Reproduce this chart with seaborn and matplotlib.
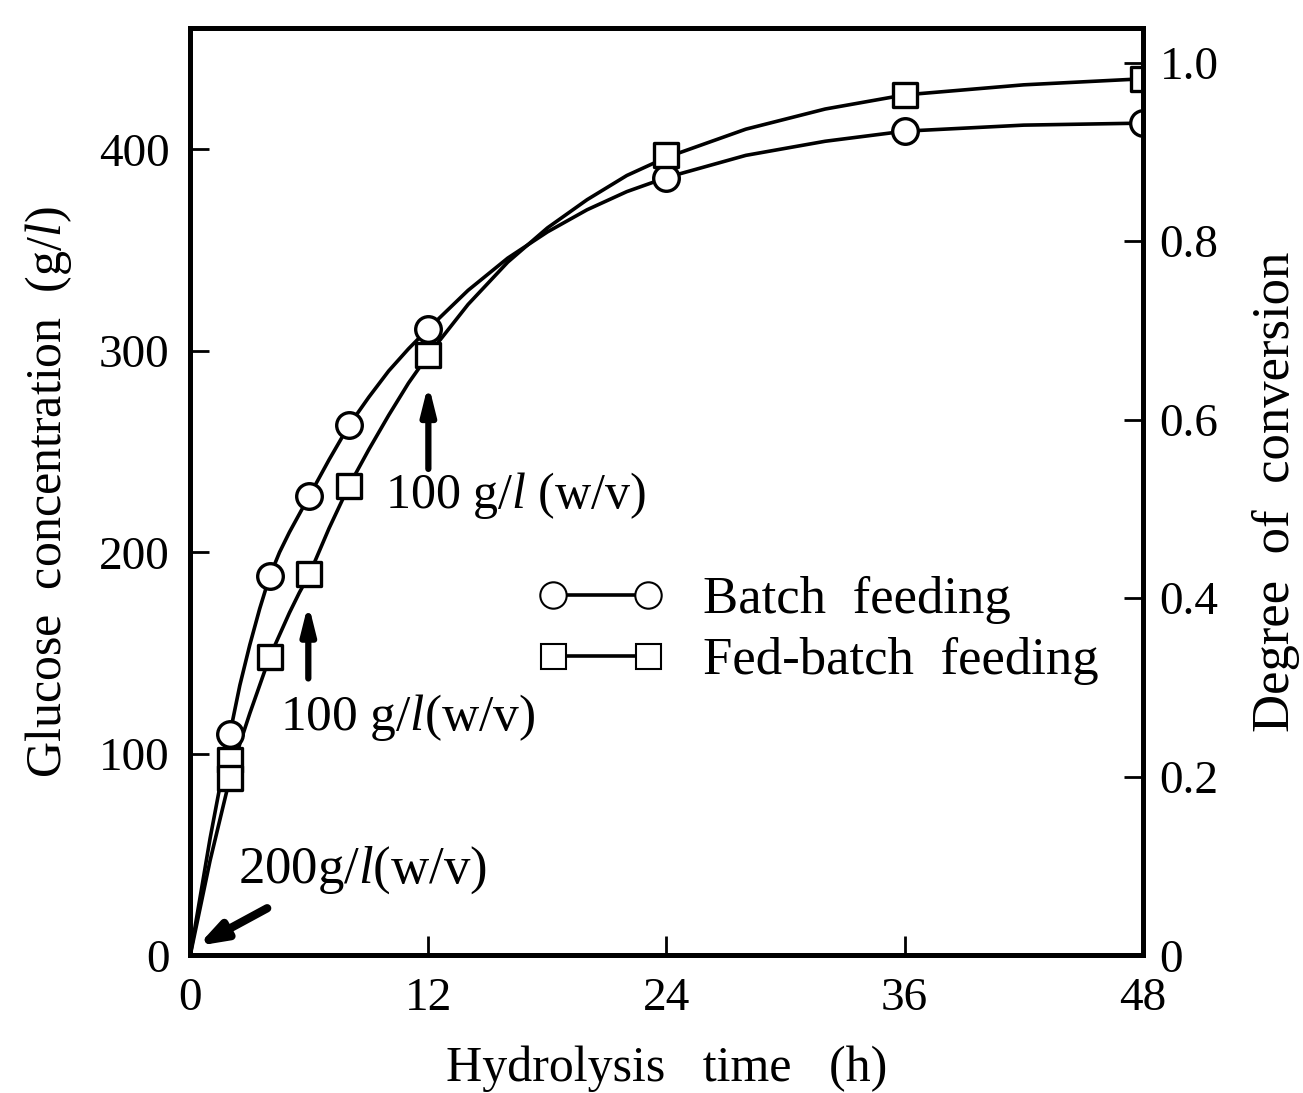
import numpy as np
import pandas as pd
import matplotlib
matplotlib.use("Agg")
import matplotlib.pyplot as plt
from matplotlib.lines import Line2D
import seaborn as sns

# measured points (glucose g/l)
t_batch = [2, 4, 6, 8, 12, 24, 36, 48]
glc_batch = [110, 188, 228, 263, 311, 386, 409, 413]
t_fed = [2, 2, 4, 6, 8, 12, 24, 36, 48]
glc_fed = [97, 88, 148, 189, 233, 298, 397, 427, 435]

# smooth curves
t_curve = [0, 1, 2, 2.5, 3, 3.5, 4, 4.5, 5, 5.5, 6, 7, 8, 9, 10, 11, 12, 14, 16, 18, 20, 22,
           24, 28, 32, 36, 42, 48]
batch_curve = [0, 58, 110, 134, 154, 172, 188, 200, 210, 219, 228, 246, 263, 277, 290, 301, 311,
               330, 346, 359, 370, 379, 386, 397, 404, 409, 412, 413]
fed_curve = [0, 47, 88, 105, 120, 134, 148, 159, 170, 180, 189, 212, 233, 251, 268, 284, 298,
             323, 344, 361, 375, 387, 396, 410, 420, 427, 432, 435]

x_ticks = [0, 12, 24, 36, 48]
y_ticks = [0, 100, 200, 300, 400]
conv_ticks = [0, 0.2, 0.4, 0.6, 0.8, 1.0]
conv_labels = ["0", "0.2", "0.4", "0.6", "0.8", "1.0"]

sns.set_theme(style="ticks", rc={"axes.edgecolor": "black", "text.color": "black",
                                 "axes.labelcolor": "black", "xtick.color": "black",
                                 "ytick.color": "black"})
plt.rcParams["font.family"] = ["Liberation Serif", "DejaVu Serif"]
plt.rcParams["mathtext.fontset"] = "custom"
plt.rcParams["mathtext.it"] = "Liberation Serif:italic"
plt.rcParams["mathtext.rm"] = "Liberation Serif"

fig = plt.figure(figsize=(13.03, 10.93), dpi=100)
ax = fig.add_axes([0.146, 0.126, 0.731, 0.848])

lw = 2.6
sns.lineplot(x=t_curve, y=batch_curve, color="black", lw=lw, ax=ax)
sns.lineplot(x=t_curve, y=fed_curve, color="black", lw=lw, ax=ax)
sns.scatterplot(x=t_batch, y=glc_batch, marker="o", s=340, facecolor="white",
                edgecolor="black", linewidth=2.4, ax=ax, zorder=3)
sns.scatterplot(x=t_fed, y=glc_fed, marker="s", s=300, facecolor="white",
                edgecolor="black", linewidth=2.4, ax=ax, zorder=3)

ax.set_xlim(0, 48)
ax.set_ylim(0, 460)
ax.set_xticks(x_ticks)
ax.set_yticks(y_ticks)
ax.tick_params(direction="in", length=14, width=2, labelsize=34, pad=15)
ax.tick_params(axis="x", pad=16)
for s in ax.spines.values():
    s.set_linewidth(3.5)
    s.set_zorder(5)
ax.set_xlabel("Hydrolysis   time   (h)", fontsize=36, labelpad=18)
ax.set_ylabel("Glucose  concentration  (g/$\\it{l}$)", fontsize=36, labelpad=18)

ax2 = ax.twinx()
ax2.set_ylim(0, 460 / 443)
ax2.set_yticks(conv_ticks)
ax2.set_yticklabels(conv_labels)
ax2.tick_params(direction="in", length=14, width=2, labelsize=34, pad=12)
for s in ax2.spines.values():
    s.set_linewidth(3.5)
ax2.set_ylabel("Degree  of  conversion", fontsize=38, labelpad=24)

# feeding annotations
ax.annotate("", xy=(0.25, 4), xytext=(4.0, 24),
            arrowprops=dict(arrowstyle="-|>,head_length=1.3,head_width=0.45",
                            color="black", lw=6))
ax.text(2.4, 42, "200g/$\\it{l}$(w/v)", fontsize=38, va="center")
ax.annotate("", xy=(5.95, 176), xytext=(5.95, 136),
            arrowprops=dict(arrowstyle="-|>,head_length=1.4,head_width=0.35",
                            color="black", lw=4.5))
ax.text(4.5, 118, "100 g/$\\it{l}$(w/v)", fontsize=37, va="center")
ax.annotate("", xy=(12.0, 285), xytext=(12.0, 240),
            arrowprops=dict(arrowstyle="-|>,head_length=1.4,head_width=0.35",
                            color="black", lw=4.5))
ax.text(9.8, 228, "100 g/$\\it{l}$ (w/v)", fontsize=36, va="center")

handles = [
    Line2D([], [], color="black", lw=lw, marker="o", markersize=19,
           markerfacecolor="white", markeredgecolor="black", markeredgewidth=1.5),
    Line2D([], [], color="black", lw=lw, marker="s", markersize=18,
           markerfacecolor="white", markeredgecolor="black", markeredgewidth=1.5),
]
ax.legend(handles, ["Batch  feeding", "Fed-batch  feeding"], numpoints=2,
          handlelength=2.4, frameon=False, fontsize=38, loc="upper left",
          bbox_to_anchor=(0.364, 0.409), borderaxespad=0, borderpad=0,
          handletextpad=0.75, labelspacing=0.25)

fig.savefig("out.png", dpi=100)
